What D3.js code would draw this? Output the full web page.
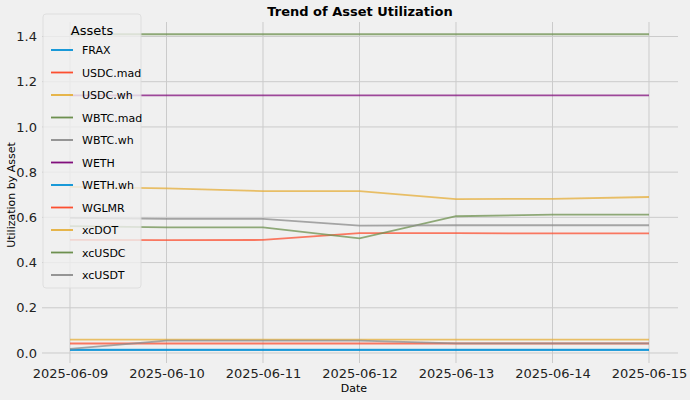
<!DOCTYPE html>
<html><head><meta charset="utf-8">
<script src="https://cdn.jsdelivr.net/npm/d3@7"></script>
<style>body{margin:0;background:#f0f0f0}</style>
</head><body><div class="canvas"></div>
<script>
const dates = ['2025-06-09','2025-06-10','2025-06-11','2025-06-12','2025-06-13','2025-06-14','2025-06-15'];
const assets = ['FRAX','USDC.mad','USDC.wh','WBTC.mad','WBTC.wh','WETH','WETH.wh','WGLMR','xcDOT','xcUSDC','xcUSDT'];
const colors = ['#008fd5','#fc4f30','#e5ae38','#6d904f','#8b8b8b','#810f7c','#008fd5','#fc4f30','#e5ae38','#6d904f','#8b8b8b'];
const FRAX = [0.015,0.015,0.015,0.015,0.015,0.015,0.015];
const USDC_mad = [0.50,0.499,0.50,0.53,0.53,0.529,0.529];
const USDC_wh = [0.735,0.728,0.716,0.716,0.681,0.682,0.69];
const WBTC_mad = [0.561,0.556,0.556,0.507,0.605,0.612,0.612];
const WBTC_wh = [0.598,0.593,0.593,0.563,0.565,0.565,0.565];
const WETH = [1.14,1.14,1.14,1.14,1.14,1.14,1.14];
const WETH_wh = [0.013,0.013,0.013,0.013,0.013,0.013,0.013];
const WGLMR = [0.042,0.042,0.042,0.042,0.042,0.042,0.042];
const xcDOT = [0.059,0.059,0.059,0.059,0.059,0.059,0.059];
const xcUSDC = [1.41,1.41,1.41,1.41,1.41,1.41,1.41];
const xcUSDT = [0.018,0.055,0.055,0.055,0.043,0.043,0.043];
const series = [FRAX,USDC_mad,USDC_wh,WBTC_mad,WBTC_wh,WETH,WETH_wh,WGLMR,xcDOT,xcUSDC,xcUSDT];
const yTicks = [0,0.2,0.4,0.6,0.8,1.0,1.2,1.4];

const svg = d3.select('.canvas').append('svg')
  .attr('width', 690).attr('height', 400)
  .style('font-family', 'DejaVu Sans');

svg.append('rect').attr('width', 690).attr('height', 400).attr('fill', '#f0f0f0');

const x = d3.scalePoint().domain(dates).range([70, 649]);
const y = d3.scaleLinear().domain([0, 1.4]).range([353, 36.5]);

// grid
svg.append('g').selectAll('line').data(yTicks).join('line')
  .attr('x1', 42).attr('x2', 678)
  .attr('y1', d => y(d)).attr('y2', d => y(d))
  .attr('stroke', '#cbcbcb').attr('stroke-width', 1);
svg.append('g').selectAll('line').data(dates).join('line')
  .attr('x1', d => x(d)).attr('x2', d => x(d))
  .attr('y1', 22).attr('y2', 363)
  .attr('stroke', '#cbcbcb').attr('stroke-width', 1);

// axes labels
const yAxis = svg.append('g').attr('transform', 'translate(40,0)')
  .call(d3.axisLeft(y).tickValues(yTicks).tickFormat(d3.format('.1f')).tickSize(0));
yAxis.select('.domain').remove();
yAxis.selectAll('text').attr('font-size', 13).attr('fill', '#222').attr('font-family', 'DejaVu Sans');

const xAxis = svg.append('g').attr('transform', 'translate(0,366)')
  .call(d3.axisBottom(x).tickSize(0));
xAxis.select('.domain').remove();
xAxis.selectAll('text').attr('font-size', 13).attr('fill', '#222').attr('font-family', 'DejaVu Sans');

// lines
const line = d3.line().x((d, i) => x(dates[i])).y(d => y(d));
series.forEach((s, i) => {
  svg.append('path').datum(s)
    .attr('d', line)
    .attr('fill', 'none')
    .attr('stroke', colors[i])
    .attr('stroke-width', 1.8)
    .attr('opacity', 0.75);
});

// titles
svg.append('text').attr('x', 360).attr('y', 16).attr('text-anchor', 'middle')
  .attr('font-size', 13).attr('font-weight', 'bold').text('Trend of Asset Utilization');
svg.append('text').attr('x', 354).attr('y', 392).attr('text-anchor', 'middle')
  .attr('font-size', 11).text('Date');
svg.append('text').attr('transform', 'translate(15,195) rotate(-90)').attr('text-anchor', 'middle')
  .attr('font-size', 11).text('Utilization by Asset');

// legend
const lg = svg.append('g').attr('transform', 'translate(43,14)');
lg.append('rect').attr('width', 98).attr('height', 274).attr('rx', 3)
  .attr('fill', '#f0f0f0').attr('opacity', 0.8).attr('stroke', '#dcdcdc');
lg.append('text').attr('x', 49).attr('y', 21).attr('text-anchor', 'middle')
  .attr('font-size', 13).text('Assets');
assets.forEach((a, i) => {
  const yy = 36 + i * 22.5;
  lg.append('line').attr('x1', 8).attr('x2', 30).attr('y1', yy).attr('y2', yy)
    .attr('stroke', colors[i]).attr('stroke-width', 1.8);
  lg.append('text').attr('x', 39).attr('y', yy + 4).attr('font-size', 11).text(a);
});
</script></body></html>
